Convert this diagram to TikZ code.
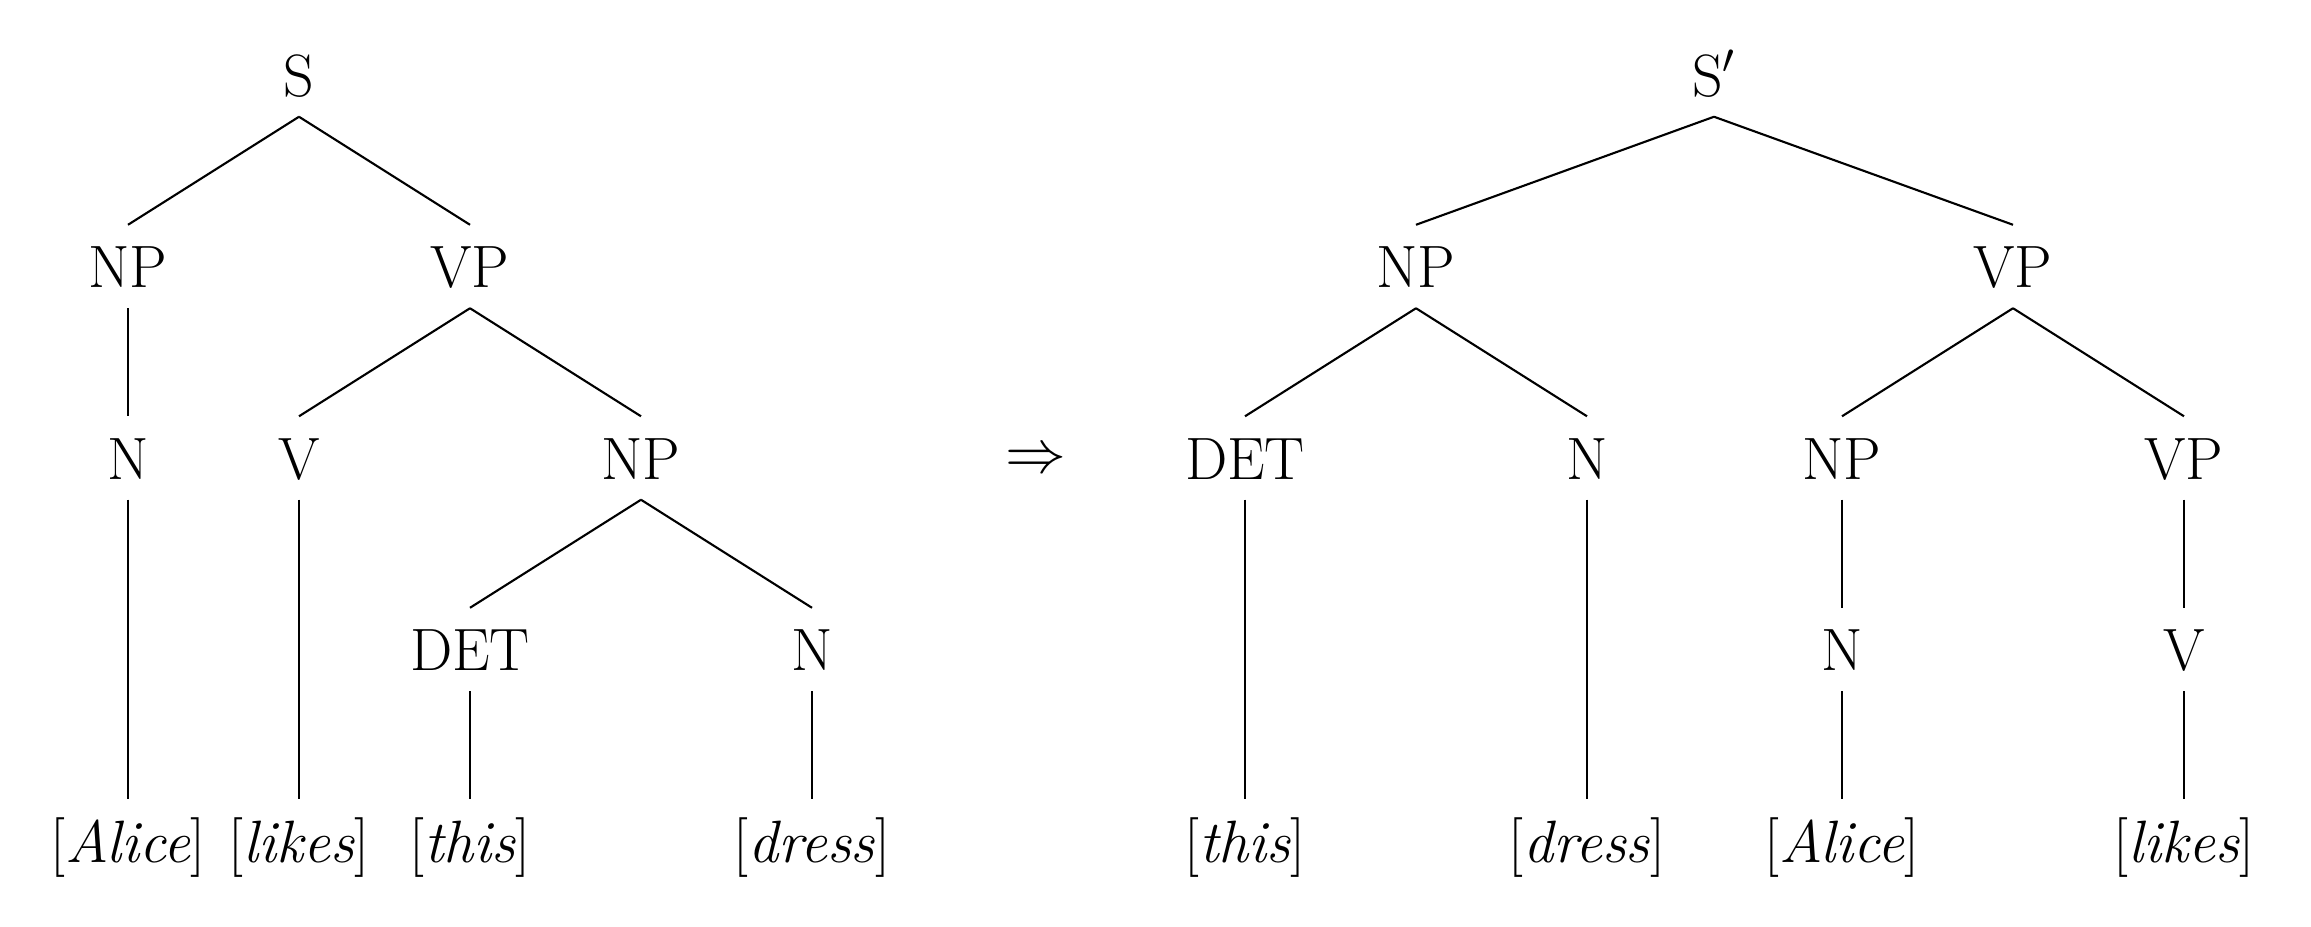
\documentclass[tikz,border=0pt]{standalone}
\begin{document}
\begin{tikzpicture}[x=0.01cm,y=-0.01cm,
  lab/.style={font=\fontsize{17}{20}\selectfont, inner xsep=0pt, inner ysep=0.2cm, text height=0.42cm, text depth=0pt, anchor=center},
  edge/.style={draw, line width=0.6pt}]
\useasboundingbox (0,0) rectangle (2311,926);
% left tree
\node[lab] (S) at (299,75) {S};
\node[lab] (NPa) at (128,266.5) {NP};
\node[lab] (VPa) at (470,266.5) {VP};
\node[lab] (Na) at (128,458) {N};
\node[lab] (Va) at (299,458) {V};
\node[lab] (NPb) at (641,458) {NP};
\node[lab] (DETa) at (470,649.5) {DET};
\node[lab] (Nb) at (812,649.5) {N};
\node[lab] (La) at (128,841) {[\textit{Alice}]};
\node[lab] (Lb) at (299,841) {[\textit{likes}]};
\node[lab] (Lc) at (470,841) {[\textit{this}]};
\node[lab] (Ld) at (812,841) {[\textit{dress}]};
\draw[edge] (S.south) -- (NPa.north);
\draw[edge] (S.south) -- (VPa.north);
\draw[edge] (NPa.south) -- (Na.north);
\draw[edge] (VPa.south) -- (Va.north);
\draw[edge] (VPa.south) -- (NPb.north);
\draw[edge] (NPb.south) -- (DETa.north);
\draw[edge] (NPb.south) -- (Nb.north);
\draw[edge] (Na.south) -- (La.north);
\draw[edge] (Va.south) -- (Lb.north);
\draw[edge] (DETa.south) -- (Lc.north);
\draw[edge] (Nb.south) -- (Ld.north);
% arrow
\node[font=\fontsize{17.5}{20}\selectfont, inner sep=0pt] (arr) at (1036,461) {$\Rightarrow$};
% right tree
\node[lab] (Sp) at (1714,75) {S$'$};
\node[lab] (NPc) at (1416,266.5) {NP};
\node[lab] (VPc) at (2013,266.5) {VP};
\node[lab] (DETb) at (1245,458) {DET};
\node[lab] (Nc) at (1587,458) {N};
\node[lab] (NPd) at (1842,458) {NP};
\node[lab] (VPd) at (2184,458) {VP};
\node[lab] (Nd) at (1842,649.5) {N};
\node[lab] (Vb) at (2184,649.5) {V};
\node[lab] (Le) at (1245,841) {[\textit{this}]};
\node[lab] (Lf) at (1587,841) {[\textit{dress}]};
\node[lab] (Lg) at (1842,841) {[\textit{Alice}]};
\node[lab] (Lh) at (2184,841) {[\textit{likes}]};
\draw[edge] (Sp.south) -- (NPc.north);
\draw[edge] (Sp.south) -- (VPc.north);
\draw[edge] (NPc.south) -- (DETb.north);
\draw[edge] (NPc.south) -- (Nc.north);
\draw[edge] (VPc.south) -- (NPd.north);
\draw[edge] (VPc.south) -- (VPd.north);
\draw[edge] (NPd.south) -- (Nd.north);
\draw[edge] (VPd.south) -- (Vb.north);
\draw[edge] (DETb.south) -- (Le.north);
\draw[edge] (Nc.south) -- (Lf.north);
\draw[edge] (Nd.south) -- (Lg.north);
\draw[edge] (Vb.south) -- (Lh.north);
\end{tikzpicture}
\end{document}
